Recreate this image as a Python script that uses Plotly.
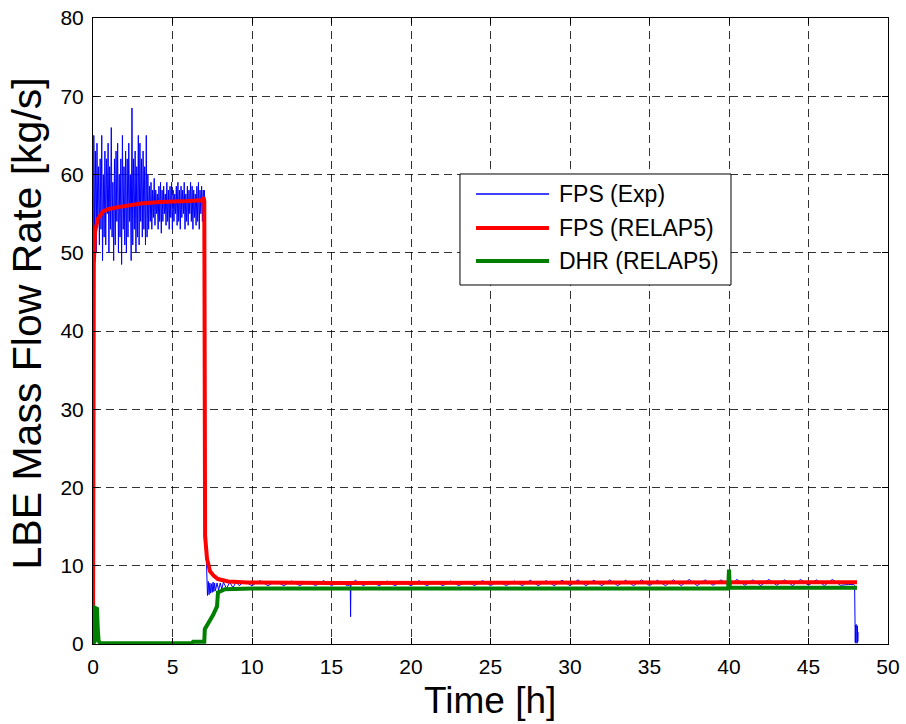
import plotly.graph_objects as go

# ---------------- data ----------------
# FPS (Exp): fast oscillation phase 0.05-3.5 h (hi/lo alternating samples)
exp_hi_1 = [65, 63, 64, 61, 62, 65, 60, 63, 62, 64, 61, 66, 59, 62, 63, 64, 60, 62,
            65, 61, 63, 62, 64, 60, 68.5, 62, 63, 61, 65, 64, 62, 63, 61, 65, 60]
exp_lo_1 = [52, 50, 54, 51, 53, 49, 52, 51, 55, 50, 53, 52, 49, 51, 54, 50, 52, 48.5,
            53, 51, 50, 52, 54, 49, 51, 53, 50, 52, 51, 54, 52, 53, 51, 52, 53]
# FPS (Exp): calmer phase 3.55-7.0 h
exp_hi_2 = [58.5, 59, 58, 59.5, 58, 57.5, 58.5, 59, 58, 58.5, 57.5, 59, 58, 58.5, 59,
            58, 57.5, 58.5, 59, 58, 58.5, 58, 59, 57.5, 58.5, 58, 59, 58.5, 58, 57.5,
            58.5, 59, 58, 58.5, 58]
exp_lo_2 = [54, 53, 54.5, 53.5, 55, 53, 54, 52.5, 54, 55, 53.5, 54, 53, 54.5, 53, 54,
            55, 53.5, 54, 53, 54.5, 55, 53, 54, 53.5, 55, 54, 53, 54.5, 53.5, 54, 53,
            55, 54, 53]
# FPS (Exp): transient after pump trip
exp_trans_t = [7.0, 7.02, 7.05, 7.08, 7.1, 7.15, 7.2, 7.25, 7.3, 7.35, 7.4, 7.45, 7.5,
               7.55, 7.6, 7.65, 7.7, 7.8, 7.9, 8.0, 8.1, 8.2, 8.4, 8.6, 8.8, 9.0, 9.2]
exp_trans_v = [58, 30, 14, 11, 13, 9, 6.2, 8, 6.3, 7.8, 6.5, 7.7, 6.6, 7.9, 6.7, 7.8,
               6.8, 7.8, 6.9, 7.8, 7.0, 7.9, 7.1, 7.9, 7.2, 7.9, 7.45]
# FPS (Exp): long natural circulation tail, every 0.5 h from 9.5 h to 47.5 h
exp_tail_v = [8.0, 7.45, 8.1, 7.45, 8.0, 7.45, 8.05, 7.45, 8.0, 7.45, 8.1, 7.45, 8.0, 7.45,
              8.15, 7.45, 8.0, 7.45, 8.05, 7.45, 8.0, 7.45, 8.1, 7.45, 8.0, 7.45, 8.05, 7.45,
              8.0, 7.45, 8.1, 7.45, 8.0, 7.45, 8.05, 7.45, 8.15, 7.45, 8.1, 7.45, 8.15, 7.45,
              8.2, 7.45, 8.15, 7.45, 8.2, 7.45, 8.15, 7.45, 8.2, 7.45, 8.15, 7.45, 8.2, 7.45,
              8.25, 7.45, 8.2, 7.5, 8.2, 7.45, 8.25, 7.5, 8.2, 7.45, 8.25, 7.5, 8.2, 7.45,
              8.25, 7.5, 8.2, 7.45, 8.25, 7.5, 7.6]
exp_spike_t = [16.18, 16.2, 16.22]
exp_spike_v = [7.6, 3.5, 7.6]
# FPS (Exp): end of test, signal drop
exp_end_t = [47.85, 47.9, 47.92, 47.94, 47.96, 47.98, 48.0, 48.02, 48.04, 48.06, 48.08, 48.1, 48.12]
exp_end_v = [7.6, 7.5, 2.3, 0.2, 2.4, 0.1, 2.5, 0.2, 2.4, 0.1, 2.3, 0.3, 1.5]

# FPS (RELAP5)
red_t = [0, 0.02, 0.05, 0.13, 0.3, 0.63, 1.0, 1.5, 2.0, 3.0, 4.2, 5.0, 6.0, 6.9, 6.95,
         7.0, 7.03, 7.05, 7.17, 7.36, 7.6, 7.86, 8.5, 9.7, 15, 20, 25, 30, 35, 39.9,
         40.0, 42, 44, 46, 48.05]
red_v = [0, 30, 48.5, 52.7, 54.3, 55.3, 55.6, 55.8, 56.0, 56.3, 56.5, 56.5, 56.6, 56.7,
         57.1, 56.6, 30, 13.8, 10.9, 9.3, 8.7, 8.3, 8.0, 7.85, 7.8, 7.8, 7.8, 7.8, 7.8,
         7.8, 7.9, 7.9, 7.9, 7.9, 7.9]

# DHR (RELAP5)
grn_t = [0, 0.1, 0.15, 0.25, 0.3, 0.35, 0.45, 6.2, 6.3, 7.0, 7.03, 7.3, 7.55, 7.8,
         7.86, 8.3, 9.0, 10, 20, 30, 39.95, 40.0, 40.05, 48.05]
grn_v = [0, 0.3, 4.6, 4.5, 2.0, 0.4, 0.1, 0.1, 0.3, 0.3, 1.9, 2.8, 3.7, 4.8, 6.6,
         7.0, 7.05, 7.1, 7.1, 7.1, 7.1, 9.5, 7.2, 7.2]

x_ticks = [0, 5, 10, 15, 20, 25, 30, 35, 40, 45, 50]
y_ticks = [0, 10, 20, 30, 40, 50, 60, 70, 80]

# ---------------- assemble experimental series ----------------
def interleave(hi, lo):
    out = []
    for h, l in zip(hi, lo):
        out += [h, l]
    return out

seg1 = interleave(exp_hi_1, exp_lo_1)
seg2 = interleave(exp_hi_2, exp_lo_2)
t1 = [0.05 + i * (3.5 - 0.05) / (len(seg1) - 1) for i in range(len(seg1))]
t2 = [3.55 + i * (6.98 - 3.55) / (len(seg2) - 1) for i in range(len(seg2))]
t_tail = [9.5 + 0.5 * i for i in range(len(exp_tail_v))]

pts = [(0.0, 0.0)] + list(zip(t1, seg1)) + list(zip(t2, seg2)) + \
      list(zip(exp_trans_t, exp_trans_v)) + list(zip(t_tail, exp_tail_v)) + \
      list(zip(exp_spike_t, exp_spike_v))
pts.sort(key=lambda p: p[0])
pts += list(zip(exp_end_t, exp_end_v))
exp_t = [p[0] for p in pts]
exp_v = [p[1] for p in pts]

# ---------------- figure ----------------
FONT = "Liberation Sans, Arial, sans-serif"
fig = go.Figure()
fig.add_trace(go.Scatter(x=exp_t, y=exp_v, mode="lines", name="FPS (Exp)",
                         line=dict(color="#0000ff", width=1), showlegend=False))
fig.add_trace(go.Scatter(x=red_t, y=red_v, mode="lines", name="FPS (RELAP5)",
                         line=dict(color="#ff0000", width=4), showlegend=False))
fig.add_trace(go.Scatter(x=grn_t, y=grn_v, mode="lines", name="DHR (RELAP5)",
                         line=dict(color="#008000", width=4), showlegend=False))

axis_common = dict(showline=True, linecolor="black", linewidth=1, mirror="ticks",
                   ticks="inside", ticklen=6, tickcolor="black", automargin=False,
                   showgrid=True, gridcolor="rgba(0,0,0,0.8)", griddash="8px,5px",
                   gridwidth=1, zeroline=False,
                   tickfont=dict(family=FONT, size=21, color="black"))

fig.update_xaxes(range=[0, 50], tickvals=x_ticks, ticktext=[str(v) for v in x_ticks],
                 ticklabelstandoff=4, **axis_common)
fig.update_yaxes(range=[0, 80], tickvals=y_ticks, ticktext=[str(v) for v in y_ticks],
                 ticklabelstandoff=4, **axis_common)

# axis titles
fig.add_annotation(xref="paper", yref="paper", x=0.4994, y=-0.0895, text="Time [h]",
                   showarrow=False, xanchor="center", yanchor="middle",
                   font=dict(family=FONT, size=37, color="black"))
fig.add_annotation(xref="paper", yref="paper", x=-0.0818, y=0.512,
                   text="LBE Mass Flow Rate [kg/s]", textangle=-90,
                   showarrow=False, xanchor="center", yanchor="middle",
                   font=dict(family=FONT, size=41, color="black"))

# custom legend (MATLAB style)
lx0, lx1, ly0, ly1 = 0.4616, 0.8025, 0.5735, 0.7508
fig.add_shape(type="rect", xref="paper", yref="paper", x0=lx0, x1=lx1, y0=ly0, y1=ly1,
              line=dict(color="black", width=1), fillcolor="white", layer="above")
entries = [("FPS (Exp)", "#0000ff", 1.5, 0.7188),
           ("FPS (RELAP5)", "#ff0000", 4, 0.6645),
           ("DHR (RELAP5)", "#008000", 4, 0.6118)]
for label, col, w, yy in entries:
    fig.add_shape(type="line", xref="paper", yref="paper", x0=0.4818, x1=0.5736,
                  y0=yy, y1=yy, line=dict(color=col, width=w), layer="above")
    fig.add_annotation(xref="paper", yref="paper", x=0.5836, y=yy, text=label,
                       showarrow=False, xanchor="left", yanchor="middle",
                       font=dict(family=FONT, size=23, color="black"))

fig.update_layout(width=906, height=724, margin=dict(l=93, r=18, t=18, b=80),
                  paper_bgcolor="white", plot_bgcolor="white", showlegend=False)

fig.write_html("out.html", config={"displayModeBar": False},
               post_script="document.body.style.margin='0px';"
                           "document.body.style.padding='0px';"
                           "document.body.style.overflow='hidden';")
